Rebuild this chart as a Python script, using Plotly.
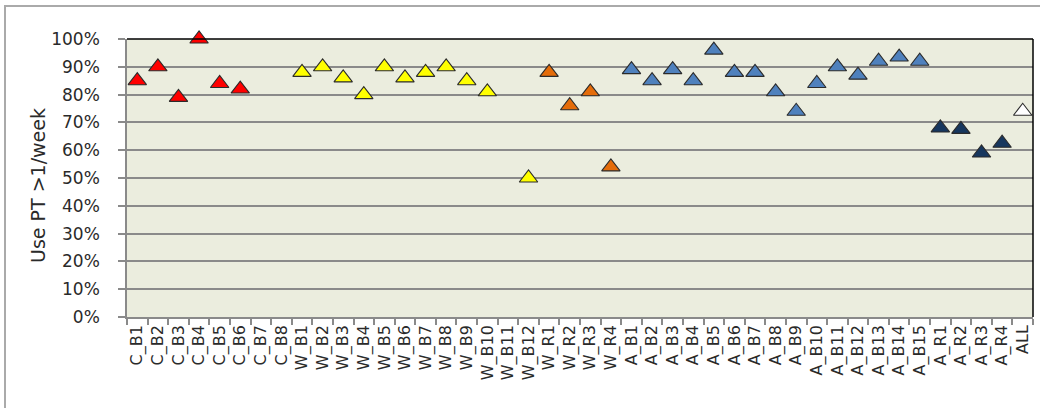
import plotly.graph_objects as go

# ---- data ----
c_cats = ["C_B1", "C_B2", "C_B3", "C_B4", "C_B5", "C_B6", "C_B7", "C_B8"]
c_vals = [0.85, 0.90, 0.79, 1.00, 0.84, 0.82, None, None]

wb_cats = ["W_B1", "W_B2", "W_B3", "W_B4", "W_B5", "W_B6", "W_B7", "W_B8",
           "W_B9", "W_B10", "W_B11", "W_B12"]
wb_vals = [0.88, 0.90, 0.86, 0.80, 0.90, 0.86, 0.88, 0.90, 0.85, 0.81, None, 0.50]

wr_cats = ["W_R1", "W_R2", "W_R3", "W_R4"]
wr_vals = [0.88, 0.76, 0.81, 0.54]

ab_cats = ["A_B1", "A_B2", "A_B3", "A_B4", "A_B5", "A_B6", "A_B7", "A_B8",
           "A_B9", "A_B10", "A_B11", "A_B12", "A_B13", "A_B14", "A_B15"]
ab_vals = [0.89, 0.85, 0.89, 0.85, 0.96, 0.88, 0.88, 0.81, 0.74, 0.84,
           0.90, 0.87, 0.92, 0.935, 0.92]

ar_cats = ["A_R1", "A_R2", "A_R3", "A_R4"]
ar_vals = [0.68, 0.675, 0.59, 0.625]

all_cats = ["ALL"]
all_vals = [0.74]

groups = [
    (c_cats, c_vals, "#FF0000"),
    (wb_cats, wb_vals, "#FFFF00"),
    (wr_cats, wr_vals, "#E46C0A"),
    (ab_cats, ab_vals, "#4F81BD"),
    (ar_cats, ar_vals, "#17375E"),
    (all_cats, all_vals, "#FFFFFF"),
]
categories = c_cats + wb_cats + wr_cats + ab_cats + ar_cats + all_cats

fig = go.Figure()
for cats, vals, color in groups:
    fig.add_trace(go.Scatter(
        x=cats, y=vals, mode="markers", showlegend=False, cliponaxis=False,
        marker=dict(symbol="triangle-up", size=16, color=color,
                    line=dict(color="#2b2b2b", width=1.1)),
    ))

W, H = 1040, 408
L, R, T, B = 127, 1033, 39, 317
pw, ph = R - L, B - T

grid = "#8A8A8A"
txt = "#2a2a2a"
fig.update_layout(
    width=W, height=H,
    margin=dict(l=L, r=W - R, t=T, b=H - B),
    paper_bgcolor="white",
    plot_bgcolor="#EBEDDE",
    font=dict(family="DejaVu Sans", color=txt),
    xaxis=dict(
        type="category", categoryorder="array", categoryarray=categories,
        range=[-0.5, len(categories) - 0.5],
        tickson="boundaries", ticks="outside", ticklen=6, tickcolor=grid, tickwidth=1.5,
        showline=True, linecolor=grid, linewidth=1.5,
        showgrid=False, tickangle=-90, tickfont=dict(size=16, color=txt),
    ),
    yaxis=dict(
        range=[0, 1], dtick=0.1, tickformat=".0%",
        ticks="outside", ticklen=7, tickcolor=grid, tickwidth=1.5,
        showline=True, linecolor=grid, linewidth=1.5,
        showgrid=True, gridcolor=grid, gridwidth=1.5,
        zeroline=False, tickfont=dict(size=17, color=txt), ticklabelstandoff=15,
    ),
    annotations=[dict(
        text="Use PT >1/week", xref="paper", yref="paper",
        x=(38 - L) / pw, y=(B - 186) / ph, textangle=-90,
        showarrow=False, font=dict(size=19, color=txt),
        xanchor="center", yanchor="middle",
    )],
    shapes=[
        # plot area top/right black border
        dict(type="line", xref="paper", yref="paper", x0=0, x1=1, y0=1, y1=1,
             line=dict(color="black", width=1.5)),
        dict(type="line", xref="paper", yref="paper", x0=1, x1=1, y0=0, y1=1,
             line=dict(color="black", width=1.5)),
        # outer chart border
        dict(type="rect", xref="paper", yref="paper",
             x0=(5 - L) / pw, x1=(1050 - L) / pw,
             y0=(B - 420) / ph, y1=(B - 6) / ph,
             line=dict(color="#AAAAAA", width=2), fillcolor="rgba(0,0,0,0)",
             layer="below"),
    ],
)

fig.write_html("out.html", config={"displayModeBar": False},
               post_script="document.body.style.margin='0';document.body.style.overflow='hidden';")
